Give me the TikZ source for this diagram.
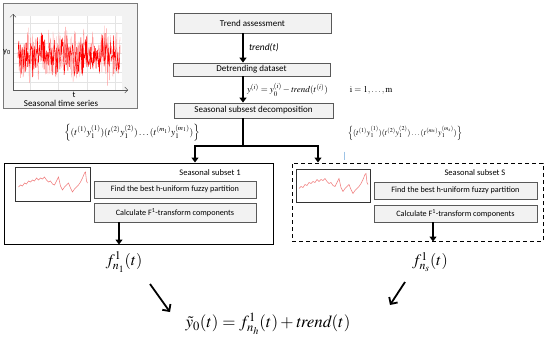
\documentclass[tikz,border=0pt]{standalone}
\usepackage{amsmath,amssymb}
\usepackage{mathptmx}
\usepackage{fontspec}
\setmainfont{Carlito}
\usetikzlibrary{arrows.meta,positioning,calc}
\definecolor{boxgray}{HTML}{F2F2F2}
\definecolor{edgegray}{HTML}{595959}
\definecolor{gridgray}{HTML}{E4E4E4}
\definecolor{sparkred}{HTML}{F07878}
\definecolor{faintblue}{HTML}{9DC3E6}
\tikzset{
  box/.style={draw=edgegray, fill=boxgray, line width=0.8pt, align=center,
              font=\fontsize{9}{10}\selectfont, inner sep=1pt},
  stepbox/.style={box, font=\fontsize{8.2}{9}\selectfont},
  subset/.style={draw=black, line width=1pt, fill=white, inner sep=0pt},
  thumb/.style={draw=black!80, line width=0.8pt, fill=white, inner sep=0pt},
  arr/.style={-{Triangle[length=5pt,width=7pt]}, line width=2pt},
  diag/.style={-{Straight Barb[length=5pt,width=10pt]}, line width=1.8pt},
  lab/.style={font=\fontsize{8.5}{9}\selectfont, inner sep=1pt},
  eq/.style={inner sep=0pt},
}
\newcommand{\sparkline}[1]{%
  \draw[sparkred, line width=0.5pt, shift={(#1)}] plot coordinates {
    (-34,3) (-32,1) (-30,2) (-28,-1) (-26,0) (-24,-3) (-22,-2) (-20,-4) (-18,-3)
    (-16,-6) (-14,-4) (-12,-6) (-10,-5) (-8,-7) (-6,-4) (-4,-2) (-2,-3) (0,0)
    (2,1) (4,-3) (6,-7) (8,2) (10,6) (12,3) (14,1) (16,-1) (18,4) (20,8) (22,5)
    (24,3) (26,1) (28,-2) (30,-6) (32,-11) (33,-12) (34,-3) (35,-1)};}

\begin{document}
\begin{tikzpicture}[x=1pt, y=-1pt]
  \useasboundingbox (0,0) rectangle (550,340);
  \node[draw=edgegray!80, fill=boxgray, line width=1pt, minimum width=134pt,
        minimum height=105pt, inner sep=0pt] (series) at (70,55.5) {};
  \fill[white] (13,16) rectangle (122,90);
  \foreach \gx in {30,58,87,115} \draw[gridgray, line width=0.4pt] (\gx,16) -- (\gx,90);
  \foreach \gy in {23,33,43,53,63,72,82} \draw[gridgray, line width=0.4pt] (13,\gy) -- (122,\gy);
  \pgfmathsetseed{11}
  \draw[red!40, line width=0.3pt] plot[domain=18:120, samples=260] (\x,{55+18*rand+15*rand});
  \draw[red, line width=0.4pt] plot[domain=18:120, samples=220] (\x,{55+14*rand+10*rand});
  \draw[edgegray, -{Straight Barb[length=3pt]}] (13,90) -- (13,14);
  \draw[edgegray, -{Straight Barb[length=3pt]}] (13,90) -- (128,90);
  \node[lab] (yaxis) at (7,52) {y\textsubscript{0}};
  \node[lab] (taxis) at (74,95) {t};
  \node[lab, font=\fontsize{9}{10}\selectfont] (seriestitle) at (61,103) {Seasonal time series};

  \coordinate (spine) at (243,0);
  \node[box, minimum width=157pt, minimum height=20pt] (trend) at (252.5,23) {Trend assessment};
  \node[box, minimum width=157pt, minimum height=13pt] (detrend) at (251.5,69.5) {Detrending dataset};
  \node[box, minimum width=159pt, minimum height=15pt] (decomp) at (253.5,110.5) {Seasonal subsest decomposition};
  \draw[arr] (trend.south -| spine) -- node[right=4pt, lab, font=\fontsize{9.5}{10}\selectfont\itshape]{trend(t)} (detrend.north -| spine);
  \draw[arr] (detrend.south -| spine) -- node[right=3pt, eq, font=\fontsize{9}{10}\selectfont]
    {$y^{(i)} = y_0^{(i)} - \mathit{trend}(t^{(i)})\hspace{22pt}\mathrm{i} = 1,\ldots,\mathrm{m}$} (decomp.north -| spine);

  \node[subset, minimum width=269pt, minimum height=81pt] (sub1) at (138.5,203.5) {};
  \node[subset, dash pattern=on 4pt off 3pt, minimum width=251pt, minimum height=78pt] (subS) at (417.5,202) {};
  \coordinate (leftdrop) at (195,0);
  \coordinate (rightdrop) at (318,0);
  \draw[line width=1.5pt] (decomp.south -| spine) -- ++(0,28) coordinate (fork);
  \draw[arr] (fork) -| (sub1.north -| leftdrop);
  \draw[arr] (fork) -| (subS.north -| rightdrop);
  \node[eq, font=\fontsize{9.5}{10}\selectfont] (set1) at (132,133)
    {$\Bigl\{(t^{(1)}y_1^{(1)})(t^{(2)}y_1^{(2)})\ldots(t^{(m_1)}y_1^{(m_1)})\Bigr\}$};
  \node[eq, font=\fontsize{8}{9}\selectfont] (setS) at (405,133)
    {$\Bigl\{(t^{(1)}y_1^{(1)})(t^{(2)}y_1^{(2)})\ldots(t^{(m_s)}y_1^{(m_s)})\Bigr\}$};
  \draw[faintblue, line width=0.8pt] ($(subS.north)+(-73.5,-11)$) -- ++(0,8);

  \node[thumb, minimum width=75pt, minimum height=34pt] (plot1) at (52.5,184) {};
  \sparkline{plot1.center}
  \node[lab] (title1) at (210,173) {Seasonal subset 1};
  \node[stepbox, minimum width=162pt, minimum height=17pt] (find1) at (175,189.5) {Find the best h-uniform fuzzy partition};
  \node[stepbox, minimum width=162pt, minimum height=19pt] (calc1) at (175,212.5) {Calculate F\textsuperscript{1}-transform components};
  \coordinate (out1) at (119,0);
  \draw[arr] (calc1.south -| out1) -- (sub1.south -| out1);

  \node[thumb, minimum width=74pt, minimum height=33pt] (plotS) at (333,185.5) {};
  \sparkline{plotS.center}
  \node[lab] (titleS) at (475,173) {Seasonal subset S};
  \node[stepbox, minimum width=163pt, minimum height=17pt] (findS) at (455.5,190.5) {Find the best h-uniform fuzzy partition};
  \node[stepbox, minimum width=163pt, minimum height=17pt] (calcS) at (455.5,213.5) {Calculate F\textsuperscript{1}-transform components};
  \coordinate (outS) at (433,0);
  \draw[arr] (calcS.south -| outS) -- (subS.south -| outS);

  \node[eq, font=\fontsize{16}{18}\selectfont] (f1) at (124,262) {$f^1_{n_1}(t)$};
  \node[eq, font=\fontsize{16}{18}\selectfont] (fS) at (430,262) {$f^1_{n_s}(t)$};
  \node[eq, font=\fontsize{17}{19}\selectfont] (final) at (268,324) {$\tilde{y}_0(t) = f^1_{n_h}(t) + \mathit{trend}(t)$};
  \draw[diag] ([shift={(26,22)}]f1.center) -- ([shift={(46,50)}]f1.center);
  \draw[diag] ([shift={(-25,20)}]fS.center) -- ([shift={(-40,43)}]fS.center);
\end{tikzpicture}
\end{document}
